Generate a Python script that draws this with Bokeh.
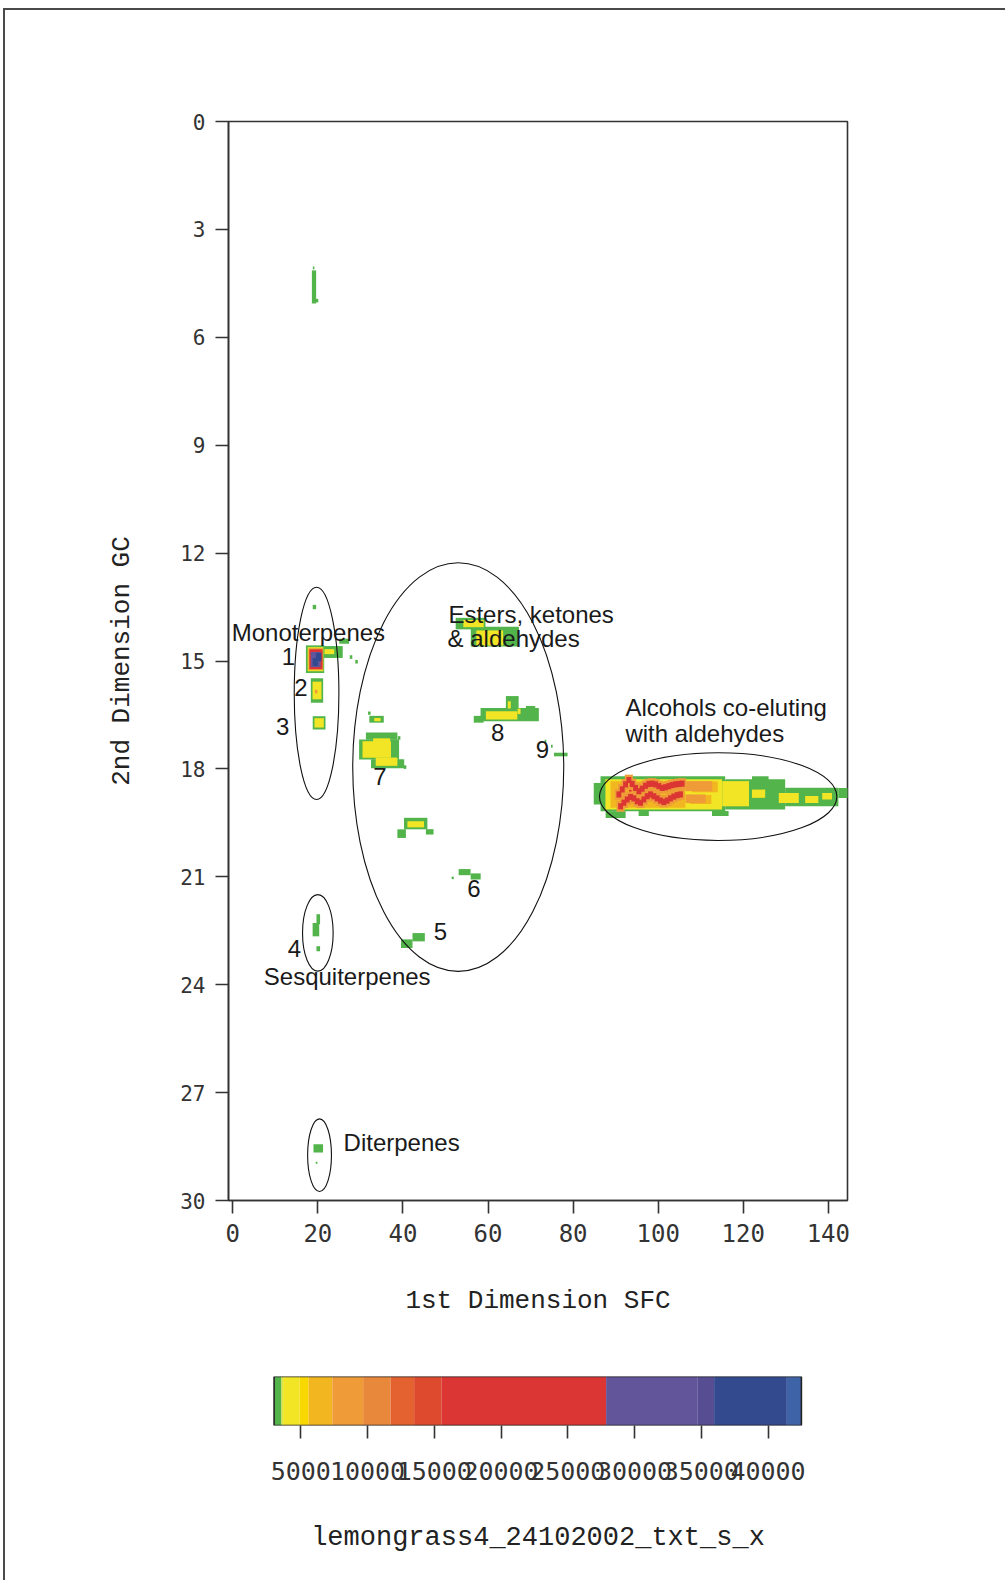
from bokeh.plotting import figure
from bokeh.models import Range1d, FixedTicker, ColumnDataSource, LinearColorMapper
from bokeh.layouts import column
from bokeh.core.properties import value
from bokeh.embed import file_html
from bokeh.resources import INLINE

# ---------------- data ----------------
x_ticks = [0, 20, 40, 60, 80, 100, 120, 140]
y_ticks = [0, 3, 6, 9, 12, 15, 18, 21, 24, 27, 30]

# colour scale (intensity boundaries and colours)
seg_lo = [3000, 3550, 3680, 4910, 5590, 7360, 9670, 11720, 13490, 15530, 27870, 34740, 35960, 41410]
seg_hi = [3550, 3680, 4910, 5590, 7360, 9670, 11720, 13490, 15530, 27870, 34740, 35960, 41410, 42500]
seg_colors = ["#52b44b", "#d9e23a", "#f2e526", "#f8d800", "#f2b620", "#ee9b38", "#e8883b",
              "#e4622f", "#de4a2e", "#db3634", "#62559a", "#574d92", "#334a8f", "#3f63a7"]
cbar_ticks = [5000, 10000, 15000, 20000, 25000, 30000, 35000, 40000]
cbar_labels = ["5000", "10000", "15000", "20000", "25000", "30000", "35000", "40000"]

# spots: 1st dimension (x), 2nd dimension (y), extent in x, extent in y, intensity
spot_x = [19.1, 19.8, 19.0, 19.2,
          19.35, 23.5, 26.2, 27.8, 29.1, 19.45, 22.7, 19.5, 19.55, 19.5, 19.4, 20.2,
          19.8, 19.8, 19.6,
          20.3, 20.3,
          32.1, 33.8, 34.0,
          35.0, 34.4, 36.4, 39.1, 40.5, 33.85, 36.15, 35.0,
          55.9, 56.6, 61.6, 60.4, 66.6,
          65.1, 65.7, 70.0, 57.8, 63.2, 65.0, 67.3,
          73.5, 75.0, 77.1,
          43.0, 39.7, 46.3, 43.0,
          54.5, 57.1, 51.7,
          40.9, 43.7,
          20.1, 19.55, 20.1,
          20.1, 19.7,
          101.1, 86.2, 122.8, 136.1, 143.5, 124.0, 90.0, 96.6, 114.6,
          101.3, 118.2, 123.6, 130.7, 136.1, 139.7,
          111.0, 110.0, 97.6,
          109.55, 108.8, 93.6]
spot_y = [4.6, 4.98, 4.07, 13.5,
          14.95, 14.75, 14.45, 14.89, 15.02, 14.95, 14.74, 14.95, 14.95, 14.96, 15.03, 14.89,
          15.82, 15.82, 15.85,
          16.72, 16.72,
          16.45, 16.62, 16.63,
          17.09, 17.46, 17.86, 17.14, 17.95, 17.46, 17.8, 17.2,
          13.96, 13.96, 14.32, 14.36, 14.12,
          16.49, 16.15, 16.4, 16.62, 16.51, 16.22, 16.4,
          17.23, 17.37, 17.6,
          19.52, 19.8, 19.75, 19.54,
          20.87, 20.99, 21.03,
          22.86, 22.68,
          22.18, 22.47, 23.0,
          28.55, 28.95,
          18.69, 18.69, 18.71, 18.78, 18.67, 18.3, 19.27, 19.24, 19.24,
          18.71, 18.69, 18.69, 18.81, 18.85, 18.76,
          18.5, 18.85, 18.71,
          18.48, 18.83, 18.75]
spot_w = [1.0, 0.6, 0.35, 0.8,
          4.3, 4.7, 2.3, 0.6, 0.6, 3.7, 2.3, 3.4, 3.1, 2.3, 1.25, 1.3,
          2.9, 2.1, 0.6,
          3.0, 2.2,
          0.6, 3.4, 1.5,
          7.4, 9.4, 7.8, 0.6, 0.6, 6.7, 5.1, 4.0,
          7.0, 4.8, 11.3, 6.3, 1.1,
          13.7, 3.0, 2.2, 2.3, 7.4, 0.7, 0.7,
          0.4, 0.4, 3.2,
          5.5, 2.0, 1.8, 3.9,
          2.8, 2.35, 0.5,
          2.7, 2.9,
          0.85, 1.55, 0.85,
          2.25, 0.4,
          29.3, 2.7, 14.1, 12.5, 2.3, 3.9, 4.7, 2.4, 3.9,
          27.4, 6.3, 3.1, 4.7, 3.1, 2.3,
          6.0, 5.0, 17.6,
          6.3, 4.7, 0.9]
spot_h = [0.92, 0.1, 0.08, 0.12,
          0.77, 0.33, 0.14, 0.1, 0.1, 0.67, 0.14, 0.61, 0.55, 0.42, 0.22, 0.23,
          0.68, 0.49, 0.1,
          0.37, 0.26,
          0.09, 0.19, 0.09,
          0.2, 0.56, 0.25, 0.1, 0.1, 0.46, 0.23, 0.1,
          0.32, 0.2, 0.55, 0.42, 0.1,
          0.37, 0.35, 0.3, 0.19, 0.23, 0.2, 0.15,
          0.08, 0.08, 0.1,
          0.32, 0.24, 0.15, 0.17,
          0.17, 0.17, 0.07,
          0.24, 0.23,
          0.28, 0.37, 0.14,
          0.23, 0.06,
          0.97, 0.6, 0.84, 0.51, 0.28, 0.19, 0.19, 0.14, 0.14,
          0.84, 0.7, 0.23, 0.28, 0.19, 0.18,
          0.3, 0.25, 0.74,
          0.28, 0.24, 0.35]
spot_z = [3300, 3300, 3300, 3300,
          3300, 3300, 3300, 3300, 3300, 4300, 4300, 8500, 20000, 30000, 38000, 38000,
          3300, 4300, 8500,
          3300, 4300,
          3300, 3300, 4300,
          3300, 3300, 3300, 3300, 3300, 4300, 4300, 4300,
          3300, 4300, 3300, 4300, 3300,
          3300, 3300, 3300, 3300, 4300, 4300, 4300,
          3300, 3300, 3300,
          3300, 3300, 3300, 4300,
          3300, 3300, 3300,
          3300, 3300,
          3300, 3300, 3300,
          3300, 3300,
          3300, 3300, 3300, 3300, 3300, 3300, 3300, 3300, 3300,
          4300, 4300, 4300, 4300, 4300, 4300,
          6500, 6500, 6500,
          8500, 8500, 20000]

# red ridges of the alcohol band (traced points: 1st dim, 2nd dim)
ridge_x = [90.76, 91.55, 92.33, 93.11, 93.9, 94.68, 95.46, 96.24, 97.02, 97.81, 98.59, 99.37,
           100.15, 100.94, 101.72, 102.5, 103.28, 104.07, 104.85, 105.63,
           91.16, 91.94, 92.72, 93.5, 94.29, 95.07, 95.85, 96.63, 97.42, 98.2, 98.98, 99.76,
           100.55, 101.33, 102.11, 102.89, 103.68, 104.46, 105.24]
ridge_y = [18.71, 18.57, 18.43, 18.31, 18.42, 18.53, 18.62, 18.55, 18.47, 18.42, 18.41, 18.43,
           18.48, 18.53, 18.51, 18.48, 18.45, 18.43, 18.42, 18.41,
           19.04, 18.94, 18.85, 18.78, 18.82, 18.9, 18.94, 18.85, 18.76, 18.71, 18.76, 18.82,
           18.88, 18.92, 18.88, 18.82, 18.77, 18.73, 18.71]

# group ellipses
ell_x = [19.7, 53.0, 114.1, 20.0, 20.4]
ell_y = [15.9, 17.95, 18.77, 22.56, 28.74]
ell_w = [10.5, 49.6, 55.8, 7.2, 5.6]
ell_h = [5.9, 11.36, 2.44, 2.13, 2.02]

# group labels
label_text = ["Monoterpenes", "Esters, ketones", "& aldehydes", "Alcohols co-eluting",
              "with aldehydes", "Sesquiterpenes", "Diterpenes"]
label_x = [-0.25, 50.7, 50.5, 92.3, 92.3, 7.3, 26.05]
label_y = [14.22, 13.71, 14.38, 16.29, 17.01, 23.78, 28.4]

# peak numbers
num_text = ["1", "2", "3", "4", "5", "6", "7", "8", "9"]
num_x = [13.1, 16.0, 11.75, 14.5, 48.8, 56.7, 34.6, 62.3, 72.8]
num_y = [14.87, 15.75, 16.82, 22.99, 22.52, 21.32, 18.21, 16.99, 17.47]

# ---------------- colour mapper built from the scale ----------------
step = 50
palette = []
v = seg_lo[0]
while v < seg_hi[-1]:
    for lo, hi, c in zip(seg_lo, seg_hi, seg_colors):
        if lo <= v + step / 2 < hi:
            palette.append(c)
            break
    v += step
mapper = LinearColorMapper(palette=palette, low=seg_lo[0], high=seg_hi[-1])

MONO = "DejaVu Sans Mono"
TITLE_MONO = "Liberation Mono"
SANS = "Liberation Sans"

# layout constants (pixels)
BL, BR, BT = 223, 158, 111
FRAME_L, FRAME_R = 228.0, 847.0
BAR_L, BAR_R = 273.6, 800.9

# ---------------- main plot ----------------
p = figure(width=1000, height=1330, x_range=Range1d(-1, 144.5), y_range=Range1d(30, 0),
           output_backend="svg", toolbar_location=None,
           min_border_left=BL, min_border_top=BT, min_border_right=BR, min_border_bottom=140)
p.grid.visible = False
p.outline_line_color = "#333333"
p.outline_line_width = 1.6

order = sorted(range(len(spot_z)), key=lambda i: spot_z[i])
src = ColumnDataSource(dict(
    x=[spot_x[i] for i in order], y=[spot_y[i] for i in order],
    w=[spot_w[i] for i in order], h=[spot_h[i] for i in order],
    z=[spot_z[i] for i in order]))
p.rect(x="x", y="y", width="w", height="h", source=src,
       fill_color={"field": "z", "transform": mapper}, line_color=None)

# ridges: orange halo then red core
halo_src = ColumnDataSource(dict(x=ridge_x, y=ridge_y, z=[8500] * len(ridge_x)))
core_src = ColumnDataSource(dict(x=ridge_x, y=ridge_y, z=[20000] * len(ridge_x)))
p.rect(x="x", y="y", width=1.9, height=0.3, source=halo_src,
       fill_color={"field": "z", "transform": mapper}, line_color=None)
p.rect(x="x", y="y", width=1.15, height=0.17, source=core_src,
       fill_color={"field": "z", "transform": mapper}, line_color=None)

p.ellipse(x=ell_x, y=ell_y, width=ell_w, height=ell_h, fill_color=None,
          line_color="#111111", line_width=1.1)

p.text(x=label_x, y=label_y, text=label_text, text_font=value(SANS), text_font_size="24px",
       text_color="#1a1a1a", text_align="left", text_baseline="alphabetic")
p.text(x=num_x, y=num_y, text=num_text, text_font=value(SANS), text_font_size="24px",
       text_color="#1a1a1a", text_align="center", text_baseline="alphabetic")

for ax in (p.xaxis[0], p.yaxis[0]):
    ax.axis_line_color = "#333333"
    ax.axis_line_width = 1.6
    ax.major_tick_line_color = "#333333"
    ax.major_tick_line_width = 1.6
    ax.major_tick_in = 0
    ax.major_tick_out = 13
    ax.minor_tick_line_color = None
    ax.major_label_text_font = MONO
    ax.major_label_text_color = "#333333"
    ax.axis_label_text_font = TITLE_MONO
    ax.axis_label_text_font_style = "normal"
    ax.axis_label_text_color = "#222222"
    ax.axis_label_text_font_size = "26px"

p.xaxis.ticker = FixedTicker(ticks=x_ticks)
p.yaxis.ticker = FixedTicker(ticks=y_ticks)
p.xaxis.major_label_text_font_size = "24px"
p.yaxis.major_label_text_font_size = "21px"
p.xaxis.major_label_standoff = 10
p.yaxis.major_label_standoff = 10
p.xaxis.axis_label = "1st Dimension SFC"
p.yaxis.axis_label = "2nd Dimension GC"
p.xaxis.axis_label_standoff = 41
p.yaxis.axis_label_standoff = 40

# ---------------- colour bar (same frame borders as main plot) ----------------
per_px = (seg_hi[-1] - seg_lo[0]) / (BAR_R - BAR_L)
cb_start = seg_lo[0] - (BAR_L - FRAME_L) * per_px
cb_end = seg_hi[-1] + (FRAME_R - BAR_R) * per_px
cb = figure(width=1000, height=240, x_range=Range1d(cb_start, cb_end), y_range=Range1d(0, 1),
            output_backend="svg", toolbar_location=None,
            min_border_left=BL, min_border_right=BR, min_border_top=36, min_border_bottom=155)
cb.grid.visible = False
cb.yaxis.visible = False
cb.outline_line_color = None
cb.quad(left=seg_lo, right=seg_hi, bottom=0, top=1, fill_color=seg_colors, line_color=None)
cb.quad(left=seg_lo[0], right=seg_hi[-1], bottom=0, top=1, fill_color=None,
        line_color="#222222", line_width=1.6)
ax = cb.xaxis[0]
ax.ticker = FixedTicker(ticks=cbar_ticks)
ax.major_label_overrides = {t: l for t, l in zip(cbar_ticks, cbar_labels)}
ax.axis_line_color = None
ax.major_tick_line_color = "#333333"
ax.major_tick_line_width = 1.6
ax.major_tick_in = 0
ax.major_tick_out = 13
ax.minor_tick_line_color = None
ax.major_label_text_font = MONO
ax.major_label_text_font_size = "25px"
ax.major_label_text_color = "#333333"
ax.major_label_standoff = 23
ax.axis_label = "lemongrass4_24102002_txt_s_x"
ax.axis_label_text_font = TITLE_MONO
ax.axis_label_text_font_style = "normal"
ax.axis_label_text_font_size = "27px"
ax.axis_label_text_color = "#222222"
ax.axis_label_standoff = 40

layout = column(p, cb, styles={"margin-left": "3px", "margin-top": "8px",
                               "border-left": "2px solid #4a4a4a",
                               "border-top": "2px solid #4a4a4a"})

open("out.html", "w").write(file_html(layout, INLINE))
